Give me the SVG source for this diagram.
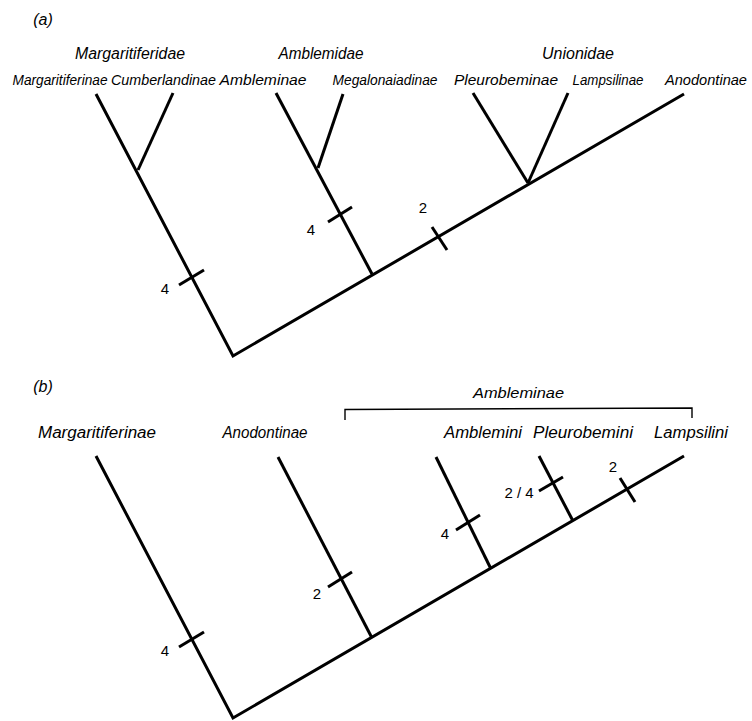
<svg xmlns="http://www.w3.org/2000/svg" width="752" height="721" viewBox="0 0 752 721">
<style>
.br{stroke:#000;stroke-width:3;fill:none;stroke-linecap:butt;stroke-linejoin:miter}
.tk{stroke:#000;stroke-width:3;fill:none}
.bk{stroke:#000;stroke-width:1.4;fill:none}
.lb{font-family:"Liberation Sans",Arial,sans-serif;font-style:italic;fill:#000;text-anchor:middle}
.fam{font-size:16px}
.sub{font-size:15.5px}
.num{font-family:"Liberation Sans",Arial,sans-serif;font-size:15px;fill:#000;text-anchor:middle}
</style>
<rect width="752" height="721" fill="#fff"/>
<g id="panel-a">
  <text class="lb fam" x="43" y="25">(a)</text>
  <g id="fam-margaritiferidae"><text class="lb fam" x="130" y="59" textLength="110" lengthAdjust="spacingAndGlyphs">Margaritiferidae</text></g>
  <g id="fam-amblemidae"><text class="lb fam" x="321" y="59" textLength="85" lengthAdjust="spacingAndGlyphs">Amblemidae</text></g>
  <g id="fam-unionidae"><text class="lb fam" x="578" y="59" textLength="72" lengthAdjust="spacingAndGlyphs">Unionidae</text></g>
  <g id="a-margaritiferinae"><text class="lb sub" x="60" y="85" textLength="95" lengthAdjust="spacingAndGlyphs">Margaritiferinae</text></g>
  <g id="a-cumberlandinae"><text class="lb sub" x="163.5" y="85" textLength="105" lengthAdjust="spacingAndGlyphs">Cumberlandinae</text></g>
  <g id="a-ambleminae"><text class="lb sub" x="263" y="85" textLength="87" lengthAdjust="spacingAndGlyphs">Ambleminae</text></g>
  <g id="a-megalonaiadinae"><text class="lb sub" x="385" y="85" textLength="105" lengthAdjust="spacingAndGlyphs">Megalonaiadinae</text></g>
  <g id="a-pleurobeminae"><text class="lb sub" x="506" y="85" textLength="104" lengthAdjust="spacingAndGlyphs">Pleurobeminae</text></g>
  <g id="a-lampsilinae"><text class="lb sub" x="608" y="85" textLength="71" lengthAdjust="spacingAndGlyphs">Lampsilinae</text></g>
  <g id="a-anodontinae"><text class="lb sub" x="706" y="85" textLength="82" lengthAdjust="spacingAndGlyphs">Anodontinae</text></g>
  <g id="a-connectors">
    <polyline class="br" points="96,94 233,356 684,94"/>
    <line class="br" x1="138" y1="170" x2="173" y2="93"/>
    <polyline class="br" points="276,93 372,274"/>
    <line class="br" x1="318" y1="168" x2="343" y2="94"/>
    <line class="br" x1="473" y1="93" x2="528" y2="183"/>
    <line class="br" x1="528" y1="183" x2="568" y2="93"/>
    <line class="tk" x1="179" y1="285" x2="204" y2="270"/>
    <line class="tk" x1="328" y1="222" x2="352" y2="207"/>
    <line class="tk" x1="432" y1="227" x2="447" y2="250"/>
  </g>
  <text class="num" x="165" y="294">4</text>
  <text class="num" x="311" y="235">4</text>
  <text class="num" x="423" y="213">2</text>
</g>
<g id="panel-b">
  <text class="lb fam" x="43" y="392">(b)</text>
  <g id="b-ambleminae-bracket">
    <polyline class="bk" points="345,420 345,409.5 692,408 692,418"/>
    <text class="lb sub" x="518.5" y="398" textLength="91" lengthAdjust="spacingAndGlyphs">Ambleminae</text>
  </g>
  <g id="b-margaritiferinae"><text class="lb fam" x="97" y="438" textLength="118" lengthAdjust="spacingAndGlyphs">Margaritiferinae</text></g>
  <g id="b-anodontinae"><text class="lb fam" x="265" y="438" textLength="85" lengthAdjust="spacingAndGlyphs">Anodontinae</text></g>
  <g id="b-amblemini"><text class="lb fam" x="483" y="438" textLength="78" lengthAdjust="spacingAndGlyphs">Amblemini</text></g>
  <g id="b-pleurobemini"><text class="lb fam" x="583" y="438" textLength="100" lengthAdjust="spacingAndGlyphs">Pleurobemini</text></g>
  <g id="b-lampsilini"><text class="lb fam" x="691" y="438" textLength="74" lengthAdjust="spacingAndGlyphs">Lampsilini</text></g>
  <g id="b-connectors">
    <polyline class="br" points="96,456 233,718 684,456"/>
    <line class="br" x1="278" y1="457" x2="372" y2="638"/>
    <line class="br" x1="436" y1="457" x2="491" y2="569"/>
    <line class="br" x1="539" y1="456" x2="573" y2="521"/>
    <line class="tk" x1="179" y1="647" x2="204" y2="632"/>
    <line class="tk" x1="328" y1="587" x2="352" y2="572"/>
    <line class="tk" x1="456" y1="530" x2="480" y2="515"/>
    <line class="tk" x1="539" y1="491" x2="563" y2="477"/>
    <line class="tk" x1="620" y1="478" x2="635" y2="502"/>
  </g>
  <text class="num" x="165" y="656">4</text>
  <text class="num" x="317" y="599">2</text>
  <text class="num" x="445" y="539">4</text>
  <text class="num" x="519" y="498">2 / 4</text>
  <text class="num" x="613" y="472">2</text>
</g>
</svg>
